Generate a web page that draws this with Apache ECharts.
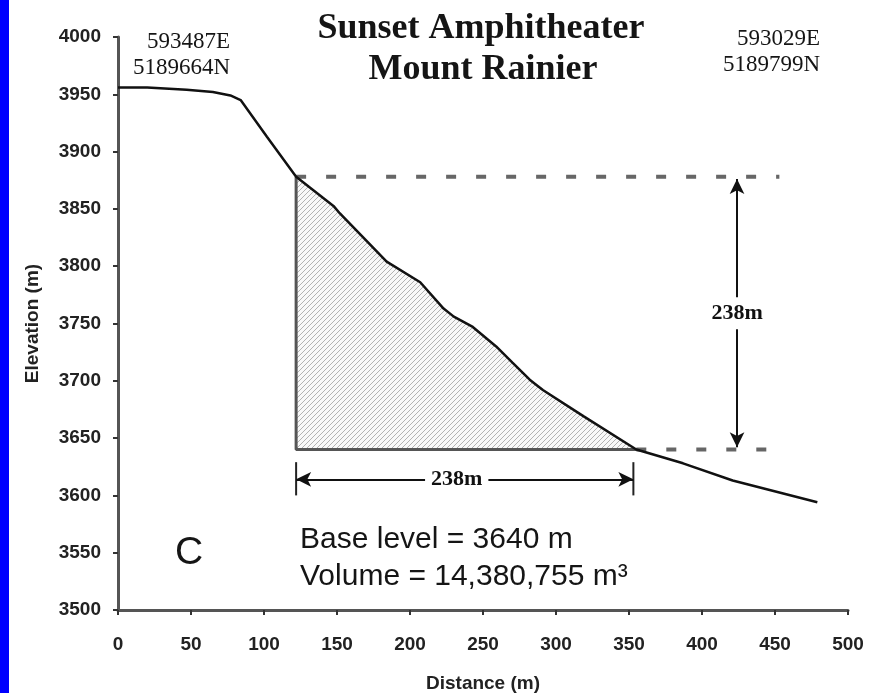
<!DOCTYPE html>
<html>
<head>
<meta charset="utf-8">
<script src="https://cdn.jsdelivr.net/npm/echarts@6/dist/echarts.min.js"></script>
<style>
html,body{margin:0;padding:0;background:#fff;}
#chart{width:870px;height:693px;}
</style>
</head>
<body>
<div id="chart"></div>
<script>
// ---- data ----
const distance = [0, 20, 47, 65, 77, 84, 102, 122, 148, 152, 184, 207, 223, 230, 243, 259, 270, 282, 291, 319, 355, 387, 421, 479];
const elevation = [3956, 3956, 3954, 3952, 3949, 3945, 3913, 3878, 3852, 3846, 3804, 3786, 3763, 3756, 3747, 3730, 3716, 3701, 3692, 3669, 3640, 3628, 3613, 3594];
const xTicks = [0, 500, 50];          // min, max, step
const yTicks = [3500, 4000, 50];      // min, max, step

// annotation values (data units)
const hatchStart = 122;      // m
const hatchEnd = 355;        // m
const baseLevel = 3640;      // m
const hatchTop = 3878;       // m
const topDashEnd = 453;
const baseDashEnd = 446;
const vDimX = 424;
const vDimRange = [3876, 3642];
const vDimLabelY = 3759;
const hDimY = 3614;
const hDimRange = [122, 353];
const hDimBar = [3629, 3600];
const hDimLabelX = 232;
const dimText = '238m';

// ---- hatch pattern ----
const pat = document.createElement('canvas');
pat.width = 5; pat.height = 5;
const pc = pat.getContext('2d');
pc.fillStyle = '#f8f8f8';
pc.fillRect(0, 0, 5, 5);
pc.strokeStyle = '#b2b2b2';
pc.lineWidth = 1;
pc.beginPath();
pc.moveTo(0, 5); pc.lineTo(5, 0);
pc.moveTo(-1, 1); pc.lineTo(1, -1);
pc.moveTo(4, 6); pc.lineTo(6, 4);
pc.stroke();

const profile = distance.map((d, i) => [d, elevation[i]]);
const hatched = profile.filter(p => p[0] >= hatchStart && p[0] <= hatchEnd);

const chart = echarts.init(document.getElementById('chart'), null, {renderer: 'canvas'});

const tickLabel = {fontFamily: 'Liberation Sans, Arial, sans-serif', fontWeight: 'bold', fontSize: 19, color: '#222', formatter: v => String(v)};
const nameStyle = {fontFamily: 'Liberation Sans, Arial, sans-serif', fontWeight: 'bold', fontSize: 19, color: '#222'};
const serif = 'Liberation Serif, Times New Roman, serif';

function txt(text, x, y, font, align) {
  return {type: 'text', x: x, y: y, silent: true, z: 10,
    style: {text: text, font: font, fill: '#151515', align: align, textAlign: align,
            verticalAlign: 'middle', textVerticalAlign: 'middle'}};
}

const option = {
  animation: false,
  backgroundColor: '#ffffff',
  grid: {left: 118, right: 22, top: 37, bottom: 83, containLabel: false, outerBoundsMode: 'none'},
  xAxis: {
    type: 'value', min: xTicks[0], max: xTicks[1], interval: xTicks[2],
    name: 'Distance (m)', nameLocation: 'middle', nameGap: 64, nameTextStyle: nameStyle,
    axisLine: {onZero: false, lineStyle: {color: '#555', width: 3}},
    axisTick: {length: 5, lineStyle: {color: '#333', width: 2}},
    axisLabel: Object.assign({margin: 25}, tickLabel),
    splitLine: {show: false}
  },
  yAxis: {
    type: 'value', min: yTicks[0], max: yTicks[1], interval: yTicks[2],
    name: 'Elevation (m)', nameLocation: 'middle', nameGap: 76, nameRotate: 90, nameTextStyle: nameStyle,
    axisLine: {onZero: false, lineStyle: {color: '#555', width: 3}},
    axisTick: {length: 5, lineStyle: {color: '#333', width: 2}},
    axisLabel: Object.assign({margin: 17}, tickLabel),
    splitLine: {show: false}
  },
  series: [
    {
      type: 'line', data: hatched, symbol: 'none', silent: true, z: 1,
      lineStyle: {width: 0, opacity: 0},
      areaStyle: {color: {image: pat, repeat: 'repeat'}, opacity: 1, origin: baseLevel}
    },
    {
      type: 'line', symbol: 'none', silent: true, z: 2,
      data: [[hatchStart, hatchTop], [hatchStart, baseLevel], [hatchEnd, baseLevel]],
      lineStyle: {color: '#555', width: 3}
    },
    {
      type: 'line', symbol: 'none', silent: true, z: 2,
      data: [[hatchStart, hatchTop], [topDashEnd, hatchTop]],
      lineStyle: {color: '#666', width: 4, type: [10, 20]}
    },
    {
      type: 'line', symbol: 'none', silent: true, z: 2,
      data: [[hatchEnd, baseLevel], [baseDashEnd, baseLevel]],
      lineStyle: {color: '#666', width: 4, type: [10, 20]}
    },
    {
      type: 'line', symbol: 'none', silent: true, z: 3,
      data: [[hDimRange[0], hDimBar[0]], [hDimRange[0], hDimBar[1]]],
      lineStyle: {color: '#222', width: 2}
    },
    {
      type: 'line', symbol: 'none', silent: true, z: 3,
      data: [[hDimRange[1], hDimBar[0]], [hDimRange[1], hDimBar[1]]],
      lineStyle: {color: '#222', width: 2}
    },
    {
      type: 'line', data: profile, symbol: 'none', silent: true, z: 5,
      lineStyle: {color: '#111', width: 2.5},
      markLine: {
        silent: true, symbol: ['arrow', 'arrow'], symbolSize: [11, 15],
        label: {show: false},
        lineStyle: {color: '#111', width: 2, type: 'solid'},
        data: [
          [{coord: [vDimX, vDimRange[0]]}, {coord: [vDimX, vDimRange[1]]}],
          [{coord: [hDimRange[0], hDimY]}, {coord: [hDimRange[1], hDimY]}]
        ]
      }
    },
    {
      type: 'scatter', symbolSize: 0, silent: true, z: 6,
      itemStyle: {opacity: 1},
      data: [[vDimX, vDimLabelY, dimText], [hDimLabelX, hDimY, dimText]],
      label: {
        show: true, position: 'inside', formatter: p => p.value[2],
        fontFamily: serif, fontSize: 22, fontWeight: 'bold', color: '#111', opacity: 1,
        textBorderWidth: 0,
        backgroundColor: '#ffffff', padding: [5, 6]
      }
    }
  ],
  graphic: [
    {type: 'rect', shape: {x: 0, y: 0, width: 9, height: 693}, style: {fill: '#0000ff'}, silent: true, z: 10},
    txt('Sunset Amphitheater', 481, 29, 'bold 36px ' + serif, 'center'),
    txt('Mount Rainier', 483, 70, 'bold 36px ' + serif, 'center'),
    txt('593487E', 230, 42, '23px ' + serif, 'right'),
    txt('5189664N', 230, 68, '23px ' + serif, 'right'),
    txt('593029E', 820, 39, '23px ' + serif, 'right'),
    txt('5189799N', 820, 65, '23px ' + serif, 'right'),
    txt('C', 189, 553, '39px Liberation Sans, Arial, sans-serif', 'center'),
    txt('Base level = 3640 m', 300, 540, '30px Liberation Sans, Arial, sans-serif', 'left'),
    txt('Volume = 14,380,755 m\u00b3', 300, 577, '30px Liberation Sans, Arial, sans-serif', 'left')
  ]
};
chart.setOption(option);
</script>
</body>
</html>
